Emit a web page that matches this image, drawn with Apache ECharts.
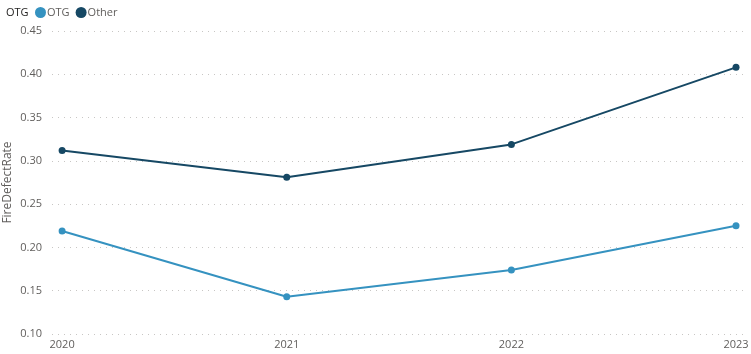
<!DOCTYPE html>
<html>
<head>
    <meta charset="UTF-8">
    <title>FireDefectRate</title>
    <script src="https://cdn.jsdelivr.net/npm/echarts@6/dist/echarts.min.js"></script>
</head>
<body style="margin:0;">
<div id="main" style="width:751px; height:354px;"></div>
<script type="text/javascript">
    // 年份
    var years = [2020, 2021, 2022, 2023];
    // 两条线的数据
    var otgRate = [0.219, 0.143, 0.174, 0.225];
    var otherRate = [0.312, 0.281, 0.319, 0.408];
    var yTicks = [0.10, 0.15, 0.20, 0.25, 0.30, 0.35, 0.40, 0.45];

    var textColor = '#605E5C';
    var font = '"Open Sans", "Noto Sans", sans-serif';

    function pairs(xs, ys) {
        return xs.map(function (x, i) { return [x, ys[i]]; });
    }

    var myChart = echarts.init(document.getElementById('main'));
    var option = {
        animation: false,
        textStyle: { fontFamily: font },
        title: {
            text: 'OTG',
            left: 1,
            top: 2,
            textStyle: { fontSize: 11, fontWeight: 'normal', color: '#252423', fontFamily: font }
        },
        legend: {
            left: 30,
            top: 2,
            icon: 'circle',
            itemWidth: 11,
            itemHeight: 11,
            itemGap: 6,
            textStyle: { fontSize: 11, color: textColor, padding: [0, 0, 0, -4] },
            data: ['OTG', 'Other']
        },
        grid: { left: 52, right: 6, top: 31, bottom: 20, outerBoundsMode: 'none', containLabel: false },
        xAxis: {
            type: 'value',
            min: 2019.955,
            max: 2023.04,
            axisLine: { show: false },
            axisTick: { show: false },
            splitLine: { show: false },
            axisLabel: {
                customValues: years,
                color: textColor,
                fontSize: 11,
                margin: 5,
                formatter: function (v) { return String(Math.round(v)); }
            }
        },
        yAxis: {
            type: 'value',
            min: 0.10,
            max: 0.45,
            interval: 0.05,
            name: 'FireDefectRate',
            nameLocation: 'middle',
            nameGap: 38,
            nameMoveOverlap: false,
            nameTextStyle: { color: textColor, fontSize: 12 },
            axisLine: { show: false },
            axisTick: { show: false },
            axisLabel: {
                customValues: yTicks,
                color: textColor,
                fontSize: 11,
                margin: 10,
                formatter: function (v) { return v.toFixed(2); }
            },
            splitLine: {
                lineStyle: { color: '#C8C6C4', type: [1, 5], width: 1 }
            }
        },
        series: [
            {
                name: 'OTG',
                type: 'line',
                data: pairs(years, otgRate),
                color: '#3592C0',
                symbol: 'circle',
                symbolSize: 7,
                lineStyle: { width: 2 }
            },
            {
                name: 'Other',
                type: 'line',
                data: pairs(years, otherRate),
                color: '#164864',
                symbol: 'circle',
                symbolSize: 7,
                lineStyle: { width: 2 }
            }
        ]
    };
    myChart.setOption(option);
</script>
</body>
</html>
